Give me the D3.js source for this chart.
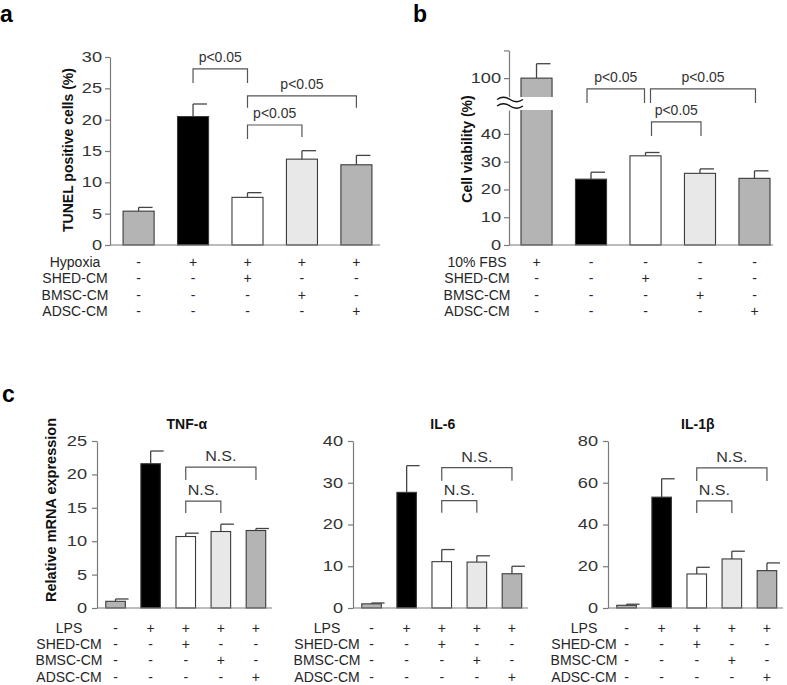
<!DOCTYPE html>
<html><head><meta charset="utf-8">
<script src="https://cdn.jsdelivr.net/npm/d3@7"></script>
<style>
body{margin:0;background:#fff}
svg{display:block}
text{font-family:"Liberation Sans",Arial,Helvetica,sans-serif}
</style>
</head><body>
<script>
// ---------------- DATA ----------------
const groups = ['G1','G2','G3','G4','G5'];

// panel a: TUNEL positive cells (%)
const tunelMean = [5.4, 20.5, 7.6, 13.7, 12.8];
const tunelErr  = [0.6, 2.0, 0.75, 1.35, 1.5];
const tunelTicks = [0,5,10,15,20,25,30];
const tableA = ['Hypoxia','SHED-CM','BMSC-CM','ADSC-CM'];
const signsA = ['-++++','--+--','---+-','----+'];
const bracketsA = [[1,2,'p<0.05',28.1],[2,4,'p<0.05',23.8],[2,3,'p<0.05',19.15]];

// panel b: Cell viability (%)
const viabMean = [100, 23.7, 32.1, 25.8, 24.0];
const viabErr  = [5.2, 2.5, 1.2, 1.6, 2.7];
const viabTicksLow = [0,10,20,30,40];
const viabTicksHigh = [100,110];
const tableB = ['10% FBS','SHED-CM','BMSC-CM','ADSC-CM'];
const signsB = ['+----','--+--','---+-','----+'];
const bracketsB = [[1,2,'p<0.05',56.2],[2,4,'p<0.05',56.2],[2,3,'p<0.05',44.3]];

// panel c: Relative mRNA expression
const genes = ['TNF-α','IL-6','IL-1β'];
const tnfMean  = [1.0, 21.6, 10.7, 11.45, 11.6];
const tnfErr   = [0.35, 1.9, 0.5, 1.1, 0.3];
const il6Mean  = [1.0, 27.7, 11.1, 11.0, 8.2];
const il6Err   = [0.2, 6.4, 2.9, 1.5, 1.8];
const il1bMean = [1.3, 53.1, 16.3, 23.5, 17.9];
const il1bErr  = [0.5, 8.8, 3.2, 3.7, 3.7];
const tnfTicks  = [0,5,10,15,20,25];
const il6Ticks  = [0,10,20,30,40];
const il1bTicks = [0,20,40,60,80];
const tableC = ['LPS','SHED-CM','BMSC-CM','ADSC-CM'];
const signsC = ['-++++','--+--','---+-','----+'];
const bracketsTnf  = [[2,4,'N.S.',21.1],[2,3,'N.S.',16.0]];
const bracketsIl6  = [[2,4,'N.S.',33.6],[2,3,'N.S.',25.7]];
const bracketsIl1b = [[2,4,'N.S.',67.1],[2,3,'N.S.',51.3]];

// ---------------- STYLE ----------------
const fills = ['#b4b4b4','#000000','#ffffff','#e8e8e8','#b4b4b4'];
const barStroke = '#3a3a3a';
const axisColor = '#7a7a7a';
const textColor = '#262626';
const tickStretch = 1.3;

const svg = d3.select('body').append('svg').attr('width',787).attr('height',685);

function styleAxis(sel, pad){
  sel.select('.domain').attr('stroke',axisColor).attr('stroke-width',1.2);
  sel.selectAll('.tick line').attr('stroke',axisColor).attr('stroke-width',1.2);
  sel.selectAll('.tick text')
     .attr('fill','#333').style('font-size','14px')
     .attr('x',0)
     .attr('transform',`translate(${-pad},0) scale(${tickStretch},1)`);
}

function drawBars(g, x, y, mean, err, capW){
  const bw = x.bandwidth();
  g.selectAll('rect.bar').data(groups).join('rect').attr('class','bar')
    .attr('x',d=>x(d)).attr('width',bw)
    .attr('y',(d,i)=>y(mean[i])).attr('height',(d,i)=>y(0)-y(mean[i]))
    .attr('fill',(d,i)=>fills[i]).attr('stroke',barStroke).attr('stroke-width',1.1);
  const eb = g.selectAll('g.err').data(groups).join('g').attr('class','err');
  eb.append('line')
    .attr('x1',d=>x(d)+bw/2).attr('x2',d=>x(d)+bw/2)
    .attr('y1',(d,i)=>y(mean[i])).attr('y2',(d,i)=>y(mean[i]+err[i]))
    .attr('stroke','#444').attr('stroke-width',1.3);
  eb.append('line')
    .attr('x1',d=>x(d)+bw/2).attr('x2',d=>x(d)+bw/2+capW)
    .attr('y1',(d,i)=>y(mean[i]+err[i])).attr('y2',(d,i)=>y(mean[i]+err[i]))
    .attr('stroke','#444').attr('stroke-width',1.3);
}

function drawBrackets(g, x, y, brs, legs, dxs, fs, stretch, gap){
  brs.forEach((b,k)=>{
    const bw = x.bandwidth();
    const x1 = x(groups[b[0]])+bw/2 + dxs[k][0];
    const x2 = x(groups[b[1]])+bw/2 + dxs[k][1];
    const yt = y(b[3]);
    g.append('path')
     .attr('d',`M${x1},${yt+legs[k][0]}V${yt}H${x2}V${yt+legs[k][1]}`)
     .attr('fill','none').attr('stroke','#555').attr('stroke-width',1.2);
    g.append('text')
     .attr('transform',`translate(${(x1+x2)/2},${yt-gap}) scale(${stretch},1)`)
     .attr('text-anchor','middle').attr('fill','#333').style('font-size',fs+'px')
     .text(b[2]);
  });
}

function drawTable(g, x, labels, signs, labelX, y0, dy){
  const bw = x.bandwidth();
  labels.forEach((lab,r)=>{
    const yy = y0 + r*dy;
    g.append('text').attr('x',labelX).attr('y',yy).attr('text-anchor','middle')
     .attr('fill',textColor).style('font-size','14px').text(lab);
    groups.forEach((gid,c)=>{
      g.append('text').attr('x',x(gid)+bw/2).attr('y',yy).attr('text-anchor','middle')
       .attr('fill',textColor).style('font-size','14px').text(signs[r][c]);
    });
  });
}

function yLabel(g, txt, cx, cy, fs){
  g.append('text').attr('transform',`translate(${cx},${cy}) rotate(-90)`)
   .attr('text-anchor','middle').attr('fill','#111').style('font-size',fs+'px')
   .style('font-weight','bold').text(txt);
}

function panelLetter(t, x, y){
  svg.append('text').attr('x',x).attr('y',y).style('font-size','23px')
    .style('font-weight','bold').attr('fill','#000').text(t);
}

// ---------------- PANEL A ----------------
{
  const g = svg.append('g');
  const ax = 110;
  const x = d3.scaleBand().domain(groups).range([ax,385]).paddingInner(0.43).paddingOuter(0.24);
  const y = d3.scaleLinear().domain([0,30]).range([245,57]);
  drawBars(g, x, y, tunelMean, tunelErr, 14);
  g.append('line').attr('x1',ax).attr('x2',380).attr('y1',y(0)).attr('y2',y(0))
   .attr('stroke',axisColor).attr('stroke-width',1.2);
  const axg = g.append('g').attr('transform',`translate(${ax},0)`)
   .call(d3.axisLeft(y).tickValues(tunelTicks).tickSize(5).tickSizeOuter(0));
  styleAxis(axg, 8);
  drawBrackets(g, x, y, bracketsA, [[14,14],[12,12],[14,12]], [[0,0],[0,0],[0,0]], 14, 1.0, 7);
  drawTable(g, x, tableA, signsA, 75, 266.5, 16.6);
  yLabel(g, 'TUNEL positive cells (%)', 73, 150, 14);
  panelLetter('a', 0, 22);
}

// ---------------- PANEL B ----------------
{
  const g = svg.append('g');
  const ax = 509;
  const x = d3.scaleBand().domain(groups).range([ax,782]).paddingInner(0.43).paddingOuter(0.22);
  const yLow = d3.scaleLinear().domain([0,48.6]).range([245,110]);
  const yHigh = d3.scaleLinear().domain([93.2,110]).range([97,50.4]);
  const yComp = v => (v > 70 ? yHigh(v) : yLow(v));
  drawBars(g, x, yComp, viabMean, viabErr, 14);
  g.append('line').attr('x1',ax).attr('x2',773).attr('y1',yLow(0)).attr('y2',yLow(0))
   .attr('stroke',axisColor).attr('stroke-width',1.2);
  const axLow = g.append('g').attr('transform',`translate(${ax},0)`)
   .call(d3.axisLeft(yLow).tickValues(viabTicksLow).tickSize(5).tickSizeOuter(0));
  styleAxis(axLow, 8);
  const axHigh = g.append('g').attr('transform',`translate(${ax},0)`)
   .call(d3.axisLeft(yHigh).tickValues(viabTicksHigh).tickFormat(d=>d===110?'':d).tickSize(5).tickSizeOuter(0));
  styleAxis(axHigh, 8);
  // axis break
  g.append('rect').attr('x',ax-14).attr('y',yHigh(93.2)).attr('width',x(groups[0])+x.bandwidth()+4-(ax-14))
   .attr('height',yLow(48.6)-yHigh(93.2)).attr('fill','#fff');
  [99.5,106].forEach(yy=>{
    g.append('path').attr('d',`M${ax-12},${yy} q6.5,-4.5 13,0 t13,0`)
     .attr('fill','none').attr('stroke','#111').attr('stroke-width',1.3);
  });
  drawBrackets(g, x, yLow, bracketsB, [[14,14],[14,14],[14,14]], [[-4,-1],[5,1],[6,1]], 14, 1.0, 7);
  drawTable(g, x, tableB, signsB, 477, 266.5, 16.6);
  yLabel(g, 'Cell viability (%)', 472, 149, 14);
  panelLetter('b', 413, 22);
}

// ---------------- PANEL C ----------------
{
  const specs = [
    {gene:genes[0], mean:tnfMean, err:tnfErr, ticks:tnfTicks, br:bracketsTnf, ax:97, lx:69},
    {gene:genes[1], mean:il6Mean, err:il6Err, ticks:il6Ticks, br:bracketsIl6, ax:353, lx:327},
    {gene:genes[2], mean:il1bMean, err:il1bErr, ticks:il1bTicks, br:bracketsIl1b, ax:608, lx:584}
  ];
  specs.forEach(s=>{
    const g = svg.append('g');
    const x = d3.scaleBand().domain(groups).range([s.ax, s.ax+177.5]).paddingInner(0.443).paddingOuter(0.25);
    const y = d3.scaleLinear().domain([0, s.ticks[s.ticks.length-1]]).range([608,441]);
    drawBars(g, x, y, s.mean, s.err, 13);
    g.append('line').attr('x1',s.ax).attr('x2',s.ax+175).attr('y1',y(0)).attr('y2',y(0))
     .attr('stroke',axisColor).attr('stroke-width',1.2);
    const axg = g.append('g').attr('transform',`translate(${s.ax},0)`)
     .call(d3.axisLeft(y).tickValues(s.ticks).tickSize(5).tickSizeOuter(0));
    styleAxis(axg, 10);
    drawBrackets(g, x, y, s.br, [[13,13],[12,12]], [[0,0],[0,0]], 14, 1.15, 6);
    drawTable(g, x, tableC, signsC, s.lx, 632.5, 16.4);
    g.append('text').attr('x', x(groups[2])+x.bandwidth()/2 + 1).attr('y',429)
     .attr('text-anchor','middle').style('font-size','14px').style('font-weight','bold')
     .attr('fill','#111').text(s.gene);
  });
  yLabel(svg, 'Relative mRNA expression', 56, 510, 14.5);
  panelLetter('c', 2, 402);
}
</script>
</body></html>
